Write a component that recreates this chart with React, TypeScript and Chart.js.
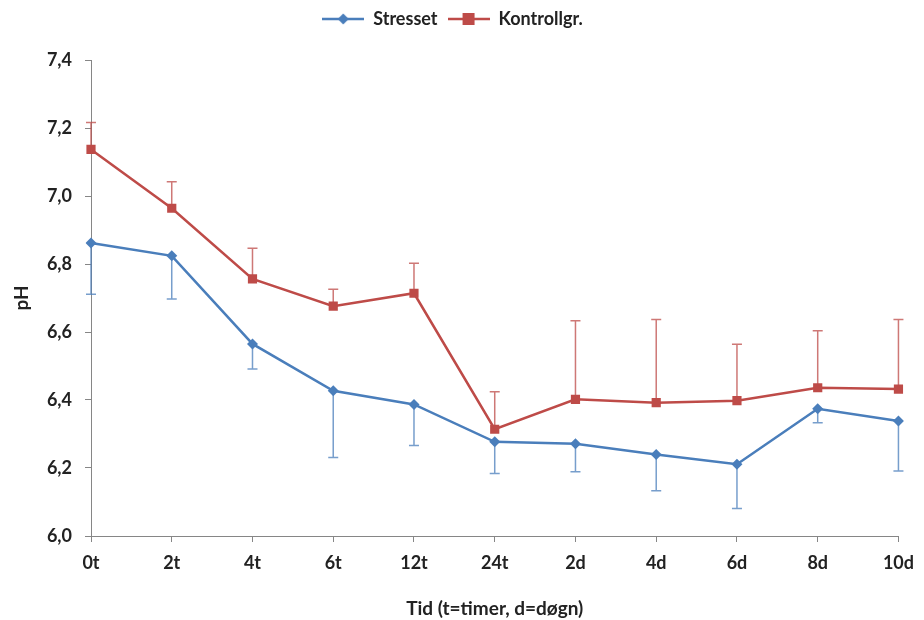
import React, { useEffect, useRef } from "react";
import { Chart, registerables } from "chart.js";

Chart.register(...registerables);

const categories = ["0t", "2t", "4t", "6t", "12t", "24t", "2d", "4d", "6d", "8d", "10d"];
const stressetValues = [6.862, 6.824, 6.565, 6.427, 6.387, 6.277, 6.271, 6.24, 6.211, 6.374, 6.338];
const stressetErr = [0.151, 0.127, 0.074, 0.196, 0.121, 0.093, 0.082, 0.107, 0.13, 0.041, 0.147];
const kontrollValues = [7.137, 6.964, 6.756, 6.676, 6.714, 6.314, 6.402, 6.392, 6.398, 6.436, 6.432];
const kontrollErr = [0.079, 0.078, 0.09, 0.05, 0.088, 0.11, 0.231, 0.245, 0.166, 0.168, 0.205];
const yTickValues = [6.0, 6.2, 6.4, 6.6, 6.8, 7.0, 7.2, 7.4];

const BLUE = "#4a7ebb";
const RED = "#be4b48";
const FONT = "Lato, 'Open Sans', sans-serif";

function legendImage(color: string, shape: "diamond" | "square"): HTMLCanvasElement {
  const c = document.createElement("canvas");
  c.width = 42;
  c.height = 14;
  const ctx = c.getContext("2d")!;
  ctx.strokeStyle = color;
  ctx.lineWidth = 2.5;
  ctx.beginPath();
  ctx.moveTo(0, 7);
  ctx.lineTo(42, 7);
  ctx.stroke();
  ctx.fillStyle = color;
  if (shape === "square") {
    ctx.fillRect(15, 1, 12, 12);
  } else {
    ctx.beginPath();
    ctx.moveTo(21, 1.5);
    ctx.lineTo(26.5, 7);
    ctx.lineTo(21, 12.5);
    ctx.lineTo(15.5, 7);
    ctx.closePath();
    ctx.fill();
  }
  return c;
}

const legendSpacer = {
  id: "legendSpacer",
  beforeInit(chart: any) {
    const legend = chart.legend;
    if (!legend) return;
    const origFit = legend.fit;
    legend.fit = function () {
      origFit.call(this);
      this.height = 60;
    };
  },
};

const errorBarPlugin = {
  id: "errorBars",
  beforeDatasetsDraw(chart: any) {
    const { ctx, scales } = chart;
    const xs = scales.x;
    const ys = scales.y;
    const draw = (vals: number[], errs: number[], dir: number, color: string) => {
      ctx.save();
      ctx.strokeStyle = color;
      ctx.lineWidth = 1.5;
      vals.forEach((v, i) => {
        const x = xs.getPixelForValue(i);
        const y0 = ys.getPixelForValue(v);
        const y1 = ys.getPixelForValue(v + dir * errs[i]);
        ctx.beginPath();
        ctx.moveTo(x, y0);
        ctx.lineTo(x, y1);
        ctx.moveTo(x - 5, y1);
        ctx.lineTo(x + 5, y1);
        ctx.stroke();
      });
      ctx.restore();
    };
    draw(stressetValues, stressetErr, -1, "rgba(74,126,187,0.75)");
    draw(kontrollValues, kontrollErr, 1, "rgba(190,75,72,0.75)");
  },
};

export default function App() {
  const ref = useRef<HTMLCanvasElement | null>(null);
  useEffect(() => {
    const imgBlue = legendImage(BLUE, "diamond");
    const imgRed = legendImage(RED, "square");
    const chart = new Chart(ref.current!, {
      type: "line",
      data: {
        labels: categories,
        datasets: [
          {
            label: "Stresset",
            data: stressetValues,
            borderColor: BLUE,
            backgroundColor: BLUE,
            borderWidth: 2.5,
            pointStyle: "rectRot",
            pointRadius: 5.5,
            pointBorderWidth: 0,
            tension: 0,
          },
          {
            label: "Kontrollgr.",
            data: kontrollValues,
            borderColor: RED,
            backgroundColor: RED,
            borderWidth: 2.5,
            pointStyle: "rect",
            pointRadius: 6.5,
            pointBorderWidth: 0,
            tension: 0,
          },
        ],
      },
      options: {
        animation: false,
        responsive: false,
        maintainAspectRatio: false,
        layout: { padding: { left: 0, right: 19, top: 0, bottom: 0 } },
        plugins: {
          tooltip: { enabled: false },
          legend: {
            position: "top",
            labels: {
              usePointStyle: true,
              pointStyleWidth: 42,
              padding: 10,
              color: "#222",
              font: { family: FONT, size: 18, weight: "bold" },
              generateLabels: () => [
                { text: "Stresset", pointStyle: imgBlue, fillStyle: BLUE, strokeStyle: BLUE, lineWidth: 0, datasetIndex: 0, hidden: false, fontColor: "#222" } as any,
                { text: "Kontrollgr.", pointStyle: imgRed, fillStyle: RED, strokeStyle: RED, lineWidth: 0, datasetIndex: 1, hidden: false, fontColor: "#222" } as any,
              ],
            },
          },
        },
        scales: {
          x: {
            type: "category",
            offset: false,
            grid: { display: true, drawOnChartArea: false, drawTicks: true, tickLength: 6, color: "#868686" },
            border: { display: true, color: "#868686", width: 1 },
            ticks: { color: "#222", padding: 10, font: { family: FONT, size: 18, weight: "bold" }, maxRotation: 0, autoSkip: false },
            title: { display: true, text: "Tid (t=timer, d=døgn)", color: "#222", font: { family: FONT, size: 19, weight: "bold" }, padding: { top: 6, bottom: 0 } },
            afterFit: (s: any) => { s.height = 84; },
          },
          y: {
            min: 6.0,
            max: 7.4,
            afterBuildTicks: (s: any) => { s.ticks = yTickValues.map((v) => ({ value: v })); },
            grid: { display: true, drawOnChartArea: false, drawTicks: true, tickLength: 6, color: "#868686" },
            border: { display: true, color: "#868686", width: 1 },
            ticks: {
              color: "#222",
              padding: 13,
              font: { family: FONT, size: 18, weight: "bold" },
              callback: (v: any) => Number(v).toFixed(1).replace(".", ","),
            },
            title: { display: true, text: "pH", color: "#222", font: { family: FONT, size: 19, weight: "bold" }, padding: { top: 10, bottom: 0 } },
            afterFit: (s: any) => { s.width = 91; },
          },
        },
      },
      plugins: [legendSpacer, errorBarPlugin],
    });
    return () => chart.destroy();
  }, []);
  return (
    <div style={{ position: "fixed", left: 0, top: 0, width: 924, height: 620, background: "#fff" }}>
      <canvas ref={ref} width={924} height={620} />
    </div>
  );
}
